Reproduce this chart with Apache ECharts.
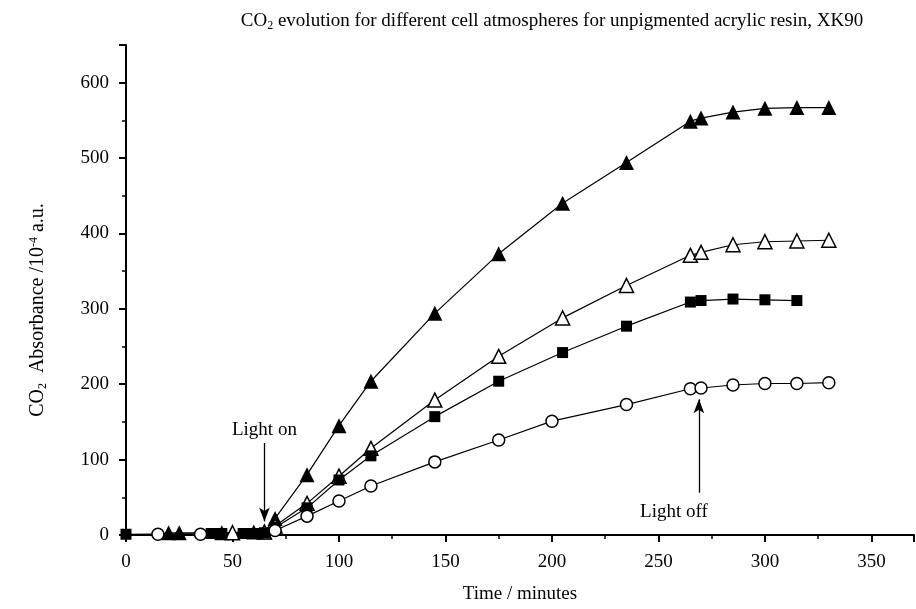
<!DOCTYPE html>
<html>
<head>
<meta charset="utf-8">
<script src="https://cdn.jsdelivr.net/npm/echarts@6/dist/echarts.min.js"></script>
<style>html,body{margin:0;padding:0;background:#fff}#c{width:916px;height:609px}</style>
</head>
<body>
<div id="c"></div>
<script>
// Filled triangles
var tTriFilled = [20,25,45,60,65,70,85,100,115,145,175,205,235,265,270,285,300,315,330];
var vTriFilled = [3,3,3,4,4,22,80,145,204,294,373,440,494,549,553,561,566,567,567];
// Open triangles
var tTriOpen = [50,65,70,85,100,115,145,175,205,235,265,270,285,300,315,330];
var vTriOpen = [3,4,12,42,78,115,179,237,288,331,371,375,385,389,390,391];
// Filled squares
var tSquare = [0,40,42,45,55,58,62,65,70,85,100,115,145,175,205,235,265,270,285,300,315];
var vSquare = [1,2,2,2,2,2,2,3,10,36,73,105,157,204,242,277,309,311,313,312,311];
// Open circles
var tCircle = [15,35,70,85,100,115,145,175,200,235,265,270,285,300,315,330];
var vCircle = [1,1,6,25,45,65,97,126,151,173,194,195,199,201,201,202];
// Annotations
var lightOnT = 65, lightOnFrom = 122, lightOnTo = 18;
var lightOffT = 269, lightOffFrom = 56, lightOffTo = 180;

function zip(a, b) { return a.map(function (x, i) { return [x, b[i]]; }); }

var font = 'Liberation Serif';
var chart = echarts.init(document.getElementById('c'));

function mkSeries(name, t, v, symbol, size, filled) {
  return {
    name: name, type: 'line', data: zip(t, v),
    symbol: symbol, symbolSize: size, showSymbol: true,
    lineStyle: { color: '#000', width: 1.2 },
    itemStyle: { color: filled ? '#000' : '#fff', borderColor: '#000', borderWidth: filled ? 0 : 1.5 },
    clip: false, z: 3, animation: false
  };
}

var series = [
  mkSeries('filledTri', tTriFilled, vTriFilled, 'triangle', 15, true),
  mkSeries('openTri', tTriOpen, vTriOpen, 'triangle', 14, false),
  mkSeries('square', tSquare, vSquare, 'rect', 11, true),
  mkSeries('circle', tCircle, vCircle, 'circle', 12, false)
];

series.push({
  type: 'line', data: [], silent: true, animation: false,
  markLine: {
    silent: true, animation: false,
    symbol: ['none', 'arrow'], symbolSize: [8, 14],
    lineStyle: { color: '#000', width: 1.3, type: 'solid' },
    data: [
      [{ coord: [lightOnT, lightOnFrom], label: { show: true, position: 'start', formatter: 'Light on', color: '#000', fontFamily: font, fontSize: 19, distance: 4 } },
       { coord: [lightOnT, lightOnTo] }],
      [{ coord: [lightOffT, lightOffFrom], label: { show: true, position: 'start', formatter: 'Light off', color: '#000', fontFamily: font, fontSize: 19, distance: 6, offset: [-25, 4] } },
       { coord: [lightOffT, lightOffTo] }]
    ]
  }
});

chart.setOption({
  animation: false,
  backgroundColor: '#fff',
  title: {
    text: 'CO{s|2} evolution for different cell atmospheres for unpigmented acrylic resin, XK90',
    left: 547, top: 6, textAlign: 'center',
    textStyle: {
      fontFamily: font, fontSize: 19, fontWeight: 'normal', color: '#000',
      rich: { s: { fontFamily: font, fontSize: 12, color: '#000', verticalAlign: 'bottom', padding: [9, 0, 0, 0] } }
    }
  },
  graphic: [{
    type: 'text', x: 38, y: 310, rotation: Math.PI / 2, silent: true,
    style: {
      text: 'CO{s|2}  Absorbance /10{p|-4} a.u.',
      fontFamily: font, fontSize: 20, fill: '#000', align: 'center', verticalAlign: 'middle',
      rich: {
        s: { fontFamily: font, fontSize: 12, fill: '#000', verticalAlign: 'bottom', padding: [9, 0, 0, 0] },
        p: { fontFamily: font, fontSize: 12, fill: '#000', verticalAlign: 'top', padding: [0, 0, 9, 0] }
      }
    }
  }],
  grid: { left: 126, right: 2, top: 45, bottom: 74, containLabel: false },
  xAxis: {
    type: 'value', min: 0, max: 370, interval: 50,
    name: 'Time / minutes', nameLocation: 'middle', nameGap: 50,
    nameTextStyle: { fontFamily: font, fontSize: 19, color: '#000' },
    axisLine: { show: true, onZero: false, lineStyle: { color: '#000', width: 2 } },
    axisTick: { show: true, length: 7, lineStyle: { color: '#000', width: 2 } },
    minorTick: { show: true, splitNumber: 2, length: 4, lineStyle: { color: '#000', width: 1.5 } },
    axisLabel: { fontFamily: font, fontSize: 19, color: '#000', margin: 18, showMaxLabel: false },
    splitLine: { show: false }
  },
  yAxis: {
    type: 'value', min: 0, max: 650, interval: 100,
    axisLine: { show: true, lineStyle: { color: '#000', width: 2 } },
    axisTick: { show: true, length: 7, lineStyle: { color: '#000', width: 2 } },
    minorTick: { show: true, splitNumber: 2, length: 4, lineStyle: { color: '#000', width: 1.5 } },
    axisLabel: { fontFamily: font, fontSize: 19, color: '#000', margin: 17, showMaxLabel: false },
    splitLine: { show: false }
  },
  series: series
});
</script>
</body>
</html>
